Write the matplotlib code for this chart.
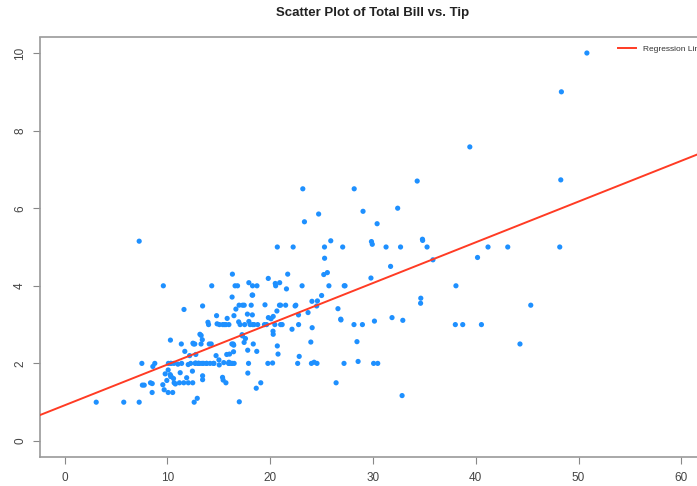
import numpy as np
import matplotlib
matplotlib.use("Agg")
import matplotlib.pyplot as plt

# Restaurant tips: total bill and tip amounts (USD)
total_bill = [
    16.99, 10.34, 21.01, 23.68, 24.59, 25.29, 8.77, 26.88, 15.04, 14.78,
    10.27, 35.26, 15.42, 18.43, 14.83, 21.58, 10.33, 16.29, 16.97, 20.65,
    17.92, 20.29, 15.77, 39.42, 19.82, 17.81, 13.37, 12.69, 21.70, 19.65,
    9.55, 18.35, 15.06, 20.69, 17.78, 24.06, 16.31, 16.93, 18.69, 31.27,
    16.04, 17.46, 13.94, 9.68, 30.40, 18.29, 22.23, 32.40, 28.55, 18.04,
    12.54, 10.29, 34.81, 9.94, 25.56, 19.49, 38.01, 26.41, 11.24, 48.27,
    20.29, 13.81, 11.02, 18.29, 17.59, 20.08, 16.45, 3.07, 20.23, 15.01,
    12.02, 17.07, 26.86, 25.28, 14.73, 10.51, 17.92, 27.20, 22.76, 17.29,
    19.44, 16.66, 10.07, 32.68, 15.98, 34.83, 13.03, 18.28, 24.71, 21.16,
    28.97, 22.49, 5.75, 16.32, 22.75, 40.17, 27.28, 12.03, 21.01, 12.46,
    11.35, 15.38, 44.30, 22.42, 20.92, 15.36, 20.49, 25.21, 18.24, 14.31,
    14.00, 7.25, 38.07, 23.95, 25.71, 17.31, 29.93, 10.65, 12.43, 24.08,
    11.69, 13.42, 14.26, 15.95, 12.48, 29.80, 8.52, 14.52, 11.38, 22.82,
    19.08, 20.27, 11.17, 12.26, 18.26, 8.51, 10.33, 14.15, 16.00, 13.16,
    17.47, 34.30, 41.19, 27.05, 16.43, 8.35, 18.64, 11.87, 9.78, 7.51,
    14.07, 13.13, 17.26, 24.55, 19.77, 29.85, 48.17, 25.00, 13.39, 16.49,
    21.50, 12.66, 16.21, 13.81, 17.51, 24.52, 20.76, 31.71, 10.59, 10.63,
    50.81, 15.81, 7.25, 31.85, 16.82, 32.90, 17.89, 14.48, 9.60, 34.63,
    34.65, 23.33, 45.35, 23.17, 40.55, 20.69, 20.90, 30.46, 18.15, 23.10,
    15.69, 19.81, 28.44, 15.48, 16.58, 7.56, 10.34, 43.11, 13.00, 13.51,
    18.71, 12.74, 13.00, 16.40, 20.53, 16.47, 26.59, 38.73, 24.27, 12.76,
    30.06, 25.89, 48.33, 13.27, 28.17, 12.90, 28.15, 11.59, 7.74, 30.14,
    12.16, 13.42, 8.58, 15.98, 13.42, 16.27, 10.09, 20.45, 13.28, 22.12,
    24.01, 15.69, 11.61, 10.77, 15.53, 10.07, 12.60, 32.83, 35.83, 29.03,
    27.18, 22.67, 17.82, 18.78,
]
tip = [
    1.01, 1.66, 3.50, 3.31, 3.61, 4.71, 2.00, 3.12, 1.96, 3.23,
    1.71, 5.00, 1.57, 3.00, 3.02, 3.92, 1.67, 3.71, 3.50, 3.35,
    4.08, 2.75, 2.23, 7.58, 3.18, 2.34, 2.00, 2.00, 4.30, 3.00,
    1.45, 2.50, 3.00, 2.45, 3.27, 3.60, 2.00, 3.07, 2.31, 5.00,
    2.24, 2.54, 3.06, 1.32, 5.60, 3.00, 5.00, 6.00, 2.05, 3.00,
    2.50, 2.60, 5.20, 1.56, 4.34, 3.51, 3.00, 1.50, 1.76, 6.73,
    3.21, 2.00, 1.98, 3.76, 2.64, 3.15, 2.47, 1.00, 2.01, 2.09,
    1.97, 3.00, 3.14, 5.00, 2.20, 1.25, 3.08, 4.00, 3.00, 2.71,
    3.00, 3.40, 1.83, 5.00, 2.03, 5.17, 2.00, 4.00, 5.85, 3.00,
    3.00, 3.50, 1.00, 4.30, 3.25, 4.73, 4.00, 1.50, 3.00, 1.50,
    2.50, 3.00, 2.50, 3.48, 4.08, 1.64, 4.06, 4.29, 3.76, 4.00,
    3.00, 1.00, 4.00, 2.55, 4.00, 3.50, 5.07, 1.50, 1.80, 2.92,
    2.31, 1.68, 2.50, 2.00, 2.52, 4.20, 1.48, 2.00, 2.00, 2.18,
    1.50, 2.83, 1.50, 2.00, 3.25, 1.25, 2.00, 2.00, 2.00, 2.75,
    3.50, 6.70, 5.00, 5.00, 2.30, 1.50, 1.36, 1.63, 1.73, 2.00,
    2.50, 2.00, 2.74, 2.00, 2.00, 5.14, 5.00, 3.75, 2.61, 2.00,
    3.50, 2.50, 2.00, 2.00, 3.00, 3.48, 2.24, 4.50, 1.61, 2.00,
    10.00, 3.16, 5.15, 3.18, 4.00, 3.11, 2.00, 2.00, 4.00, 3.55,
    3.68, 5.65, 3.50, 6.50, 3.00, 5.00, 3.50, 2.00, 3.50, 4.00,
    1.50, 4.19, 2.56, 2.02, 4.00, 1.44, 2.00, 5.00, 2.00, 2.00,
    4.00, 2.01, 2.00, 2.50, 4.00, 3.23, 3.41, 3.00, 2.03, 2.23,
    2.00, 5.16, 9.00, 2.50, 6.50, 1.10, 3.00, 1.50, 1.44, 3.09,
    2.20, 3.48, 1.92, 3.00, 1.58, 2.50, 2.00, 3.00, 2.72, 2.88,
    2.00, 3.00, 3.39, 1.47, 3.00, 1.25, 1.00, 1.17, 4.67, 5.92,
    2.00, 2.00, 1.75, 3.00,
]
x_ticks = [0, 10, 20, 30, 40, 50, 60]
y_ticks = [0, 2, 4, 6, 8, 10]

plt.rcParams['font.family'] = ['Liberation Sans', 'DejaVu Sans']

fig = plt.figure(figsize=(6.97, 4.86), dpi=100)
ax = fig.add_axes([40 / 697, 1 - 456.5 / 486, 666 / 697, 419 / 486])

x = np.array(total_bill)
y = np.array(tip)
slope, intercept = np.polyfit(x, y, 1)

ax.scatter(x, y, s=14, color='#1E90FF', edgecolors='none', zorder=3)

ax.set_xlim(-2.4, 62.4)
ax.set_ylim(-0.4, 10.4)
xl = np.array(ax.get_xlim())
ax.plot(xl, intercept + slope * xl, color='#FF3B24', lw=1.4,
        label='Regression Line', zorder=4)

ax.set_xticks(x_ticks)
ax.set_yticks(y_ticks)
ax.set_yticklabels([str(t) for t in y_ticks], rotation=90, va='center')
ax.tick_params(axis='both', direction='out', length=5, width=0.8,
               color='#888888', labelcolor='#444444', labelsize=8.5)
ax.tick_params(axis='x', pad=6)
ax.tick_params(axis='y', pad=5)

for side in ax.spines.values():
    side.set_color('#999999')
    side.set_linewidth(1.2)

fig.text(373 / 697, 1 - 13 / 486, 'Scatter Plot of Total Bill vs. Tip',
         ha='center', va='center', fontsize=9.5, fontweight='bold',
         color='#222222')

leg = ax.legend(loc='upper left', bbox_to_anchor=(572 / 666, 1.0 - 2 / 419),
                frameon=False, fontsize=6, handlelength=2.2, handletextpad=0.8,
                borderaxespad=0.3)
for t in leg.get_texts():
    t.set_color('#333333')

fig.savefig('out.png', dpi=100)
